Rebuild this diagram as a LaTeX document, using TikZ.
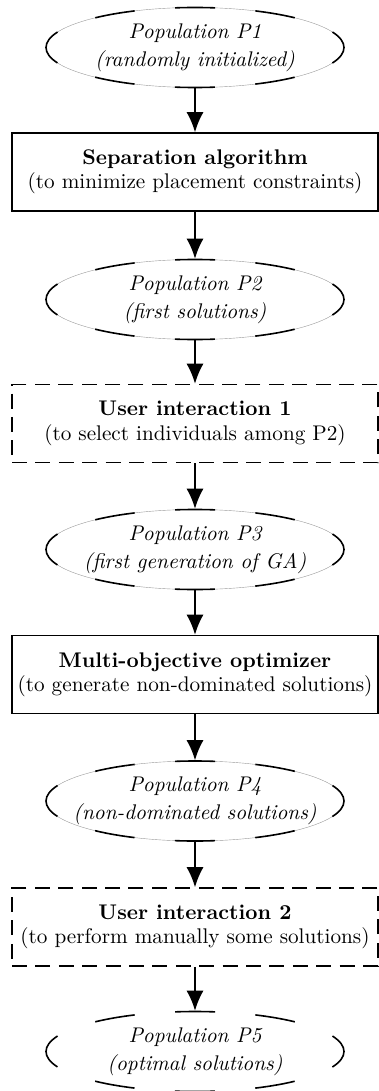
\documentclass[tikz,border=0pt]{standalone}
\usetikzlibrary{shapes.geometric,arrows.meta}
\begin{document}
\begin{tikzpicture}[x=0.5pt,y=-0.5pt,
  txt/.style={font=\fontsize{10.6}{12.7}\selectfont, align=center, inner sep=0pt},
  pop/.style={draw, ellipse, line width=0.8pt, minimum width=149pt, minimum height=40pt,
     inner sep=0pt, dash pattern=on 20pt off 20.25pt, dash phase=10pt},
  popthin/.style={pop, preaction={draw, solid, black!40, line width=0.2pt}},
  poptext/.style={txt, font=\fontsize{10.6}{14}\selectfont\itshape},
  stepbox/.style={draw, rectangle, line width=0.8pt, minimum width=183pt, minimum height=39pt,
     txt, font=\fontsize{10.6}{12.2}\selectfont},
  userbox/.style={stepbox, dash pattern=on 7.5pt off 4.2pt},
  arr/.style={-{Latex[length=10pt,width=8.5pt]}, line width=0.8pt}
]
\useasboundingbox (0,0) rectangle (379,1091);

\node[popthin] (p1) at (195,47.5) {};
\node[poptext] (p1t) at (p1) {Population P1\\(randomly initialized)};

\node[stepbox] (b1) at (195,172) {\textbf{Separation algorithm}\\(to minimize placement constraints)};

\node[popthin] (p2) at (195,299.5) {};
\node[poptext] (p2t) at (p2) {Population P2\\(first solutions)};

\node[userbox] (b2) at (195,423.5) {\textbf{User interaction 1}\\(to select individuals among P2)};

\node[popthin] (p3) at (195,549.5) {};
\node[poptext] (p3t) at (p3) {Population P3\\(first generation of GA)};

\node[stepbox] (b3) at (195,674.5) {\textbf{Multi-objective optimizer}\\(to generate non-dominated solutions)};

\node[popthin] (p4) at (195,801) {};
\node[poptext] (p4t) at (p4) {Population P4\\(non-dominated solutions)};

\node[userbox] (b4) at (195,927) {\textbf{User interaction 2}\\(to perform manually some solutions)};

\node[pop] (p5) at (195,1051.5) {};
\node[poptext] (p5t) at (p5) {Population P5\\(optimal solutions)};

\draw[arr] (p1.south) -- (b1.north);
\draw[arr] (b1.south) -- (p2.north);
\draw[arr] (p2.south) -- (b2.north);
\draw[arr] (b2.south) -- (p3.north);
\draw[arr] (p3.south) -- (b3.north);
\draw[arr] (b3.south) -- (p4.north);
\draw[arr] (p4.south) -- (b4.north);
\draw[arr] (b4.south) -- (p5.north);
\end{tikzpicture}
\end{document}
